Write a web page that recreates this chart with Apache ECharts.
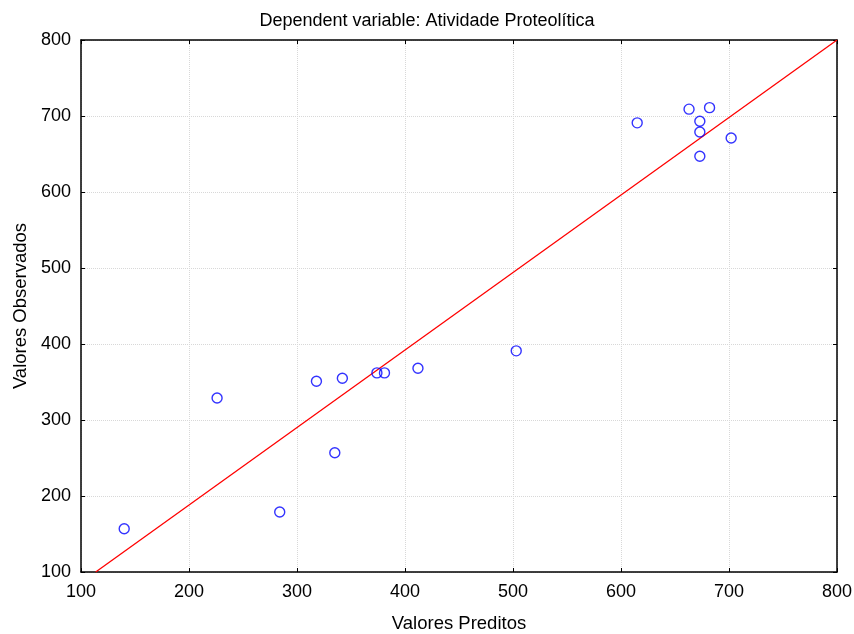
<!DOCTYPE html>
<html>
<head>
<meta charset="utf-8">
<script src="https://cdn.jsdelivr.net/npm/echarts@6/dist/echarts.min.js"></script>
<style>html,body{margin:0;padding:0;background:#fff;}#c{width:854px;height:634px;}</style>
</head>
<body>
<div id="c"></div>
<script>
const predicted = [140, 226, 284, 318, 342, 335, 374, 381, 412, 503, 615, 663, 682, 673, 673, 673, 702];
const observed  = [157, 329, 179, 351, 355, 257, 362, 362, 368, 391, 691, 709, 711, 693, 679, 647, 671];
const fitLineX = [113.6, 800];
const fitLineY = [100, 800];
const titleText = 'Dependent variable: Atividade Proteolítica';
const xName = 'Valores Preditos';
const yName = 'Valores Observados';

const pts = predicted.map((x, i) => [x, observed[i]]);
const linePts = fitLineX.map((x, i) => [x, fitLineY[i]]);
const font = '"Liberation Sans", Arial, sans-serif';
const chart = echarts.init(document.getElementById('c'));
const axisCommon = {
  min: 100, max: 800, interval: 100,
  axisLine: {show: true, onZero: false, lineStyle: {color: '#000', width: 1.5}},
  axisTick: {show: true, inside: true, length: 4, lineStyle: {color: '#000', width: 1}},
};
chart.setOption({
  animation: false,
  title: {text: titleText, left: 'center', top: 7,
    textStyle: {fontFamily: font, fontSize: 18, fontWeight: 'normal', color: '#000'}},
  grid: {left: 81, right: 17, top: 40, bottom: 62, containLabel: false, outerBoundsMode: 'none'},
  xAxis: [
    Object.assign({}, axisCommon, {type: 'value', position: 'bottom',
      name: xName, nameLocation: 'middle', nameGap: 42,
      nameTextStyle: {fontFamily: font, fontSize: 18.5, color: '#000'},
      axisLabel: {fontFamily: font, fontSize: 18, color: '#000', margin: 11},
      splitLine: {show: true, lineStyle: {color: '#d8d8d8', type: 'dotted', width: 1}}}),
    Object.assign({}, axisCommon, {type: 'value', position: 'top',
      axisLabel: {show: false}, splitLine: {show: false}})
  ],
  yAxis: [
    Object.assign({}, axisCommon, {type: 'value', position: 'left',
      name: yName, nameLocation: 'middle', nameGap: 51, nameRotate: 90,
      nameTextStyle: {fontFamily: font, fontSize: 18.5, color: '#000'},
      axisLabel: {fontFamily: font, fontSize: 18, color: '#000', margin: 10},
      splitLine: {show: true, lineStyle: {color: '#d8d8d8', type: 'dotted', width: 1}}}),
    Object.assign({}, axisCommon, {type: 'value', position: 'right',
      axisLabel: {show: false}, splitLine: {show: false}})
  ],
  series: [
    {type: 'line', data: linePts, symbol: 'none', silent: true,
      lineStyle: {color: '#ff0000', width: 1.3}, z: 2},
    {type: 'scatter', data: pts, symbol: 'circle', symbolSize: 10,
      itemStyle: {color: 'rgba(0,0,0,0)', borderColor: '#0000ff', borderWidth: 1.4}, z: 3}
  ]
});
</script>
</body>
</html>
